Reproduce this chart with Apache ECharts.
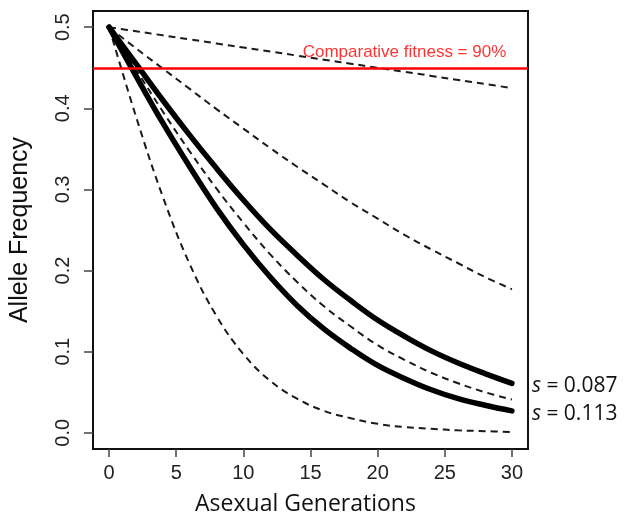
<!DOCTYPE html>
<html>
<head>
<meta charset="utf-8">
<script src="https://cdn.jsdelivr.net/npm/echarts@6/dist/echarts.min.js"></script>
<style>html,body{margin:0;padding:0;background:#fff}#c{width:633px;height:521px}</style>
</head>
<body>
<div id="c"></div>
<script>
var gens = [0,2,4,6,8,10,12,14,16,18,20,22,24,26,28,30];
var dashS010 = [0.500,0.495,0.490,0.485,0.480,0.475,0.470,0.465,0.460,0.455,0.450,0.445,0.440,0.435,0.430,0.425];
var dashS050 = [0.500,0.474,0.449,0.424,0.399,0.375,0.351,0.328,0.306,0.284,0.264,0.244,0.226,0.209,0.192,0.177];
var dashS100 = [0.500,0.448,0.396,0.347,0.301,0.259,0.220,0.186,0.156,0.131,0.108,0.090,0.074,0.061,0.050,0.041];
var dashS200 = [0.500,0.390,0.291,0.208,0.144,0.097,0.064,0.042,0.027,0.018,0.011,0.007,0.005,0.003,0.002,0.001];
var solidS087 = [0.500,0.455,0.410,0.367,0.326,0.287,0.251,0.219,0.189,0.163,0.139,0.119,0.101,0.086,0.073,0.061];
var solidS113 = [0.500,0.440,0.382,0.328,0.277,0.232,0.192,0.157,0.128,0.104,0.083,0.067,0.053,0.042,0.034,0.027];
var xTicks = [0,5,10,15,20,25,30];
var yTicks = [0,0.1,0.2,0.3,0.4,0.5];
var fitnessLevel = 0.45;
var fitnessText = 'Comparative fitness = 90%';
var fitnessLabelAt = 22;
var solidLabels = ['0.087','0.113'];

function pairs(ys){ return gens.map(function(g,i){ return [g, ys[i]]; }); }

function dashed(name, ys){
  return {
    name: name, type: 'line', data: pairs(ys), showSymbol: false, symbol: 'none',
    smooth: 0.4, silent: true,
    lineStyle: { color: '#1a1a1a', width: 2, type: [7,5] }, z: 2
  };
}
function solid(name, ys, lab){
  return {
    name: name, type: 'line', data: pairs(ys), showSymbol: false, symbol: 'none',
    smooth: 0.4, silent: true,
    lineStyle: { color: '#000', width: 5.5, cap: 'round' }, z: 3,
    endLabel: {
      show: true, distance: 20, offset: [0, 3],
      formatter: function(){ return '{it|s}{n| = ' + lab + '}'; },
      rich: {
        it: { fontFamily: 'Open Sans', fontStyle: 'italic', fontSize: 21, color: '#111' },
        n: { fontFamily: 'Open Sans', fontSize: 21, color: '#111' }
      }
    }
  };
}

var chart = echarts.init(document.getElementById('c'), null, { renderer: 'canvas' });
chart.setOption({
  animation: false,
  backgroundColor: '#fff',
  grid: { left: 88, right: 105, top: 11, bottom: 69, show: true, borderColor: '#111', borderWidth: 2, backgroundColor: 'transparent' },
  xAxis: {
    type: 'value', min: -1.2, max: 31.2,
    name: 'Asexual Generations', nameLocation: 'middle', nameGap: 44,
    nameTextStyle: { fontFamily: 'Open Sans', fontSize: 23, color: '#111', padding: [0, 10, 0, 0] },
    axisLine: { show: false, onZero: false },
    splitLine: { show: false },
    axisTick: { show: true, inside: false, length: 8, customValues: xTicks, lineStyle: { color: '#444', width: 1.5 } },
    axisLabel: { customValues: xTicks, margin: 14, fontFamily: 'Liberation Sans', fontSize: 20, color: '#222' }
  },
  yAxis: {
    type: 'value', min: -0.02, max: 0.52,
    name: 'Allele Frequency', nameLocation: 'middle', nameGap: 60, nameRotate: 90,
    nameTextStyle: { fontFamily: 'Liberation Sans', fontSize: 25, color: '#111' },
    axisLine: { show: false, onZero: false },
    splitLine: { show: false },
    axisTick: { show: true, inside: false, length: 9, customValues: yTicks, lineStyle: { color: '#444', width: 1.5 } },
    axisLabel: { customValues: yTicks, rotate: 90, margin: 20, fontFamily: 'Liberation Sans', fontSize: 20, color: '#222',
      formatter: function(v){ return v.toFixed(1); } }
  },
  series: [
    dashed('s=0.01', dashS010),
    dashed('s=0.05', dashS050),
    dashed('s=0.10', dashS100),
    dashed('s=0.20', dashS200),
    solid('s=0.087', solidS087, solidLabels[0]),
    solid('s=0.113', solidS113, solidLabels[1]),
    {
      name: 'fitness', type: 'scatter', symbolSize: 0, silent: true, z: 4,
      data: [[fitnessLabelAt, fitnessLevel]],
      label: { show: true, position: 'top', distance: 7, formatter: fitnessText,
        fontFamily: 'Liberation Sans', fontSize: 17, color: '#ff0000' },
      markLine: {
        silent: true, symbol: 'none', label: { show: false },
        lineStyle: { color: '#ff0000', width: 2.5, type: 'solid' },
        data: [{ yAxis: fitnessLevel }]
      }
    }
  ]
});
</script>
</body>
</html>
